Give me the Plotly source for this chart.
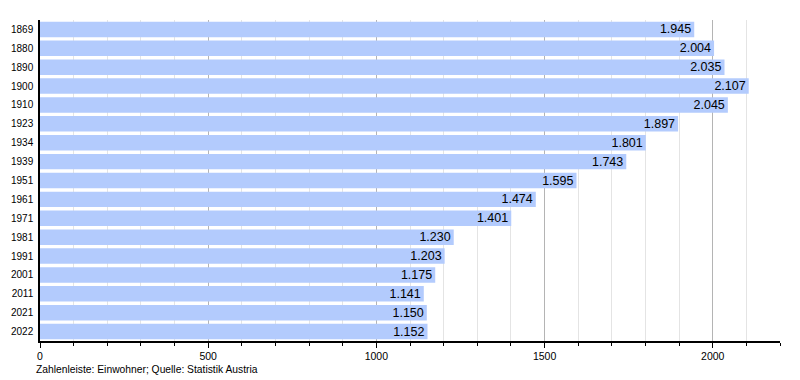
import plotly.graph_objects as go

years = ["1869", "1880", "1890", "1900", "1910", "1923", "1934", "1939", "1951",
         "1961", "1971", "1981", "1991", "2001", "2011", "2021", "2022"]
population = [1945, 2004, 2035, 2107, 2045, 1897, 1801, 1743, 1595,
              1474, 1401, 1230, 1203, 1175, 1141, 1150, 1152]
labels = [f"{v:,}".replace(",", ".") for v in population]
caption = "Zahlenleiste: Einwohner; Quelle: Statistik Austria"

FONT = "Liberation Sans, Arial, sans-serif"

# The page body adds an 8px margin; size the figure to compensate.
fig = go.Figure(go.Bar(
    x=population, y=years, orientation="h",
    marker=dict(color="#b3cbfd", line=dict(width=0)),
    text=labels, textposition="inside", insidetextanchor="end",
    textfont=dict(color="black", size=12.5, family=FONT),
    constraintext="none", cliponaxis=False,
))

fig.update_layout(
    width=792, height=372,
    margin=dict(l=32, r=20, t=12, b=39, autoexpand=False),
    paper_bgcolor="white", plot_bgcolor="white",
    bargap=0.18,
    showlegend=False,
    font=dict(family=FONT, size=10.5, color="black"),
    annotations=[dict(text=caption, x=0, y=0, xref="paper", yref="paper",
                      xshift=-6, yshift=-28, xanchor="left", yanchor="middle",
                      showarrow=False, font=dict(size=10.3, color="black"))],
)
fig.update_xaxes(
    range=[0, 2200], tick0=0, dtick=500, automargin=False,
    showgrid=True, gridcolor="#b4b4b4", gridwidth=1,
    showline=True, linecolor="black", linewidth=1.5,
    ticks="outside", ticklen=5, tickcolor="black",
    minor=dict(dtick=100, showgrid=True, gridcolor="#e4e4e4", ticks="outside",
               ticklen=3, tickcolor="black"),
    zeroline=False, tickfont=dict(size=10.5),
)
fig.update_yaxes(
    autorange="reversed", automargin=False,
    showline=True, linecolor="black", linewidth=1.5,
    ticks="outside", ticklen=3, tickcolor="rgba(0,0,0,0)",
    tickfont=dict(size=10), showgrid=False,
)

fig.write_html("out.html")
